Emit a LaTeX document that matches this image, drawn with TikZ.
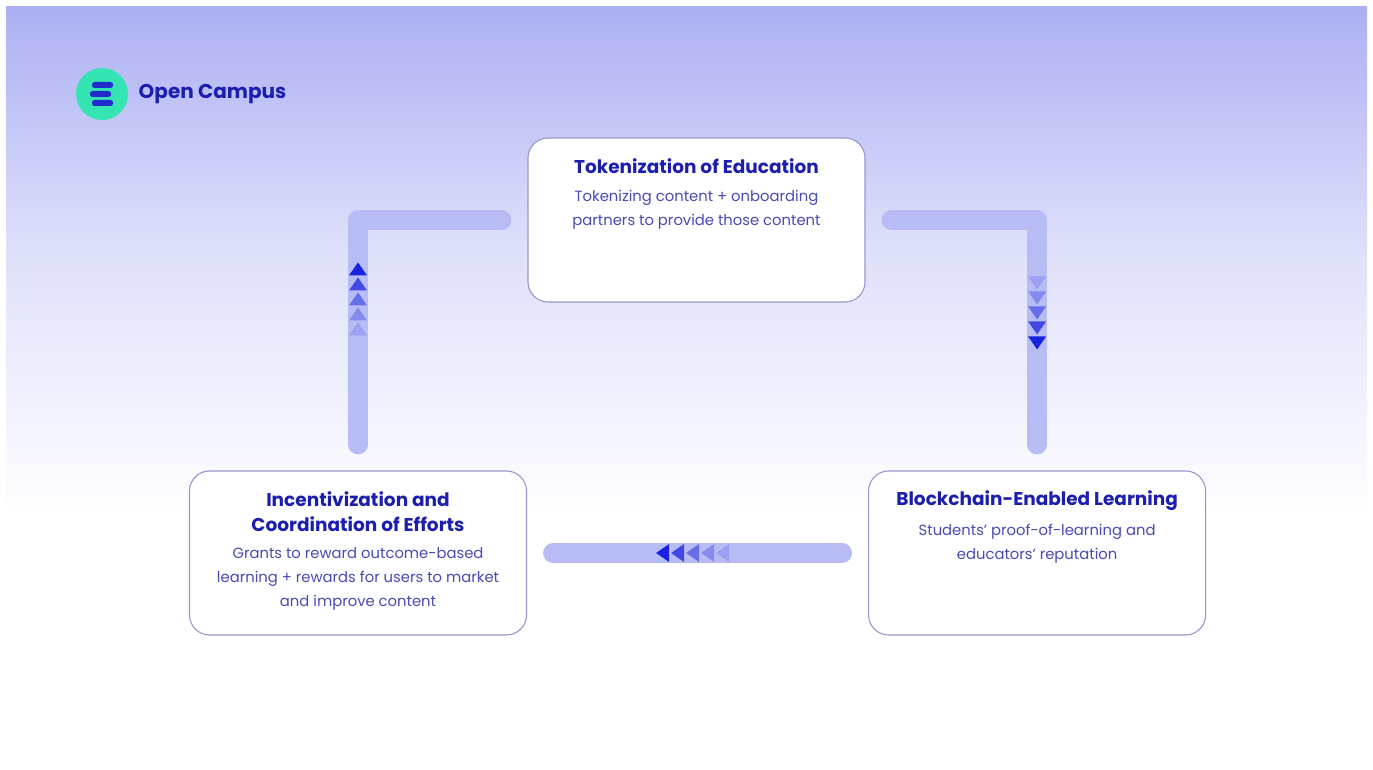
\documentclass[tikz,border=0pt]{standalone}
\usepackage{fontspec}
\setmainfont{Poppins}
\usetikzlibrary{positioning, calc}
\definecolor{bandblue}{RGB}{184,188,244}
\definecolor{tipblue}{RGB}{24,34,226}
\definecolor{titleblue}{RGB}{28,30,175}
\definecolor{textblue}{RGB}{72,74,182}
\definecolor{cardline}{RGB}{150,152,205}
\definecolor{bgtop}{RGB}{172,176,243}
\definecolor{bgmid}{RGB}{222,224,250}
\definecolor{mint}{RGB}{52,228,178}
\definecolor{logoblue}{RGB}{34,44,205}
\tikzset{
  card/.style={rectangle, rounded corners=20pt, draw=cardline, line width=1.1pt, fill=white, minimum width=337pt, minimum height=164pt},
  cardtitle/.style={font=\fontsize{18.5}{25}\selectfont\bfseries, text=titleblue, align=center, inner sep=0pt},
  cardtext/.style={font=\fontsize{14.8}{24}\selectfont, text=textblue, align=center, inner sep=0pt},
  band/.style={line width=20pt, draw=bandblue, line cap=round, line join=round},
  flowtip/.pic={\fill (0,0) -- (-13,9) -- (-13,-9) -- cycle;}
}

\begin{document}
\begin{tikzpicture}[x=1pt, y=1pt]
% page and backdrop
\useasboundingbox (0,0) rectangle (1373,769);
\fill[white] (0,0) rectangle (1373,769);
\shade[top color=bgtop, bottom color=bgmid] (6,520) rectangle (1367,762);
\shade[top color=bgmid, bottom color=white] (6,250) rectangle (1367,520.5);

% logo
\node[circle, fill=mint, minimum size=52pt, inner sep=0pt] (logo) at (102,675) {};
\foreach \dy/\dx in {9/0, 0/-2, -9/0}
  \fill[logoblue, rounded corners=2.5pt] ($(logo)+(-10+\dx,-3+\dy)$) rectangle ++(21,6);
\node[font=\fontsize{20}{22}\selectfont\bfseries, text=titleblue, right=7pt of logo] (brand) {Open Campus};

% cards
\node[card] (tok) at (696.5,549) {};
\node[card] (inc) at (358,216) {};
\node[card, right=341pt of inc] (blk) {};

\node[cardtitle, below=21pt of tok.north] (tokhead) {Tokenization of Education};
\node[cardtext, below=16pt of tokhead] (tokbody) {Tokenizing content + onboarding\\partners to provide those content};
\node[cardtitle, below=21pt of inc.north] (inchead) {Incentivization and\\Coordination of Efforts};
\node[cardtext, below=16pt of inchead] (incbody) {Grants to reward outcome-based\\learning + rewards for users to market\\and improve content};
\node[cardtitle, below=20pt of blk.north] (blkhead) {Blockchain-Enabled Learning};
\node[cardtext, below=13pt of blkhead] (blkbody) {Students' proof-of-learning and\\educators' reputation};

% connectors
\draw[band] ([xshift=-26pt]tok.west) -| ([yshift=26pt]inc.north);
\draw[band] ([xshift=26pt]tok.east) -| ([yshift=26pt]blk.north);
\draw[band] ([xshift=-26pt]blk.west) -- ([xshift=26pt]inc.east);

% fading tips on the connectors
\foreach \k/\op in {0/1, 1/.75, 2/.5, 3/.32, 4/.18} {
  \pic[fill=tipblue, opacity=\op, rotate=90] at ($(inc.north)+(0,208-15*\k)$) {flowtip};
  \pic[fill=tipblue, opacity=\op, rotate=-90] at ($(blk.north)+(0,121+15*\k)$) {flowtip};
  \pic[fill=tipblue, opacity=\op, rotate=180] at ($(blk.west)+(-212+15*\k,0)$) {flowtip};
}
\end{tikzpicture}
\end{document}
